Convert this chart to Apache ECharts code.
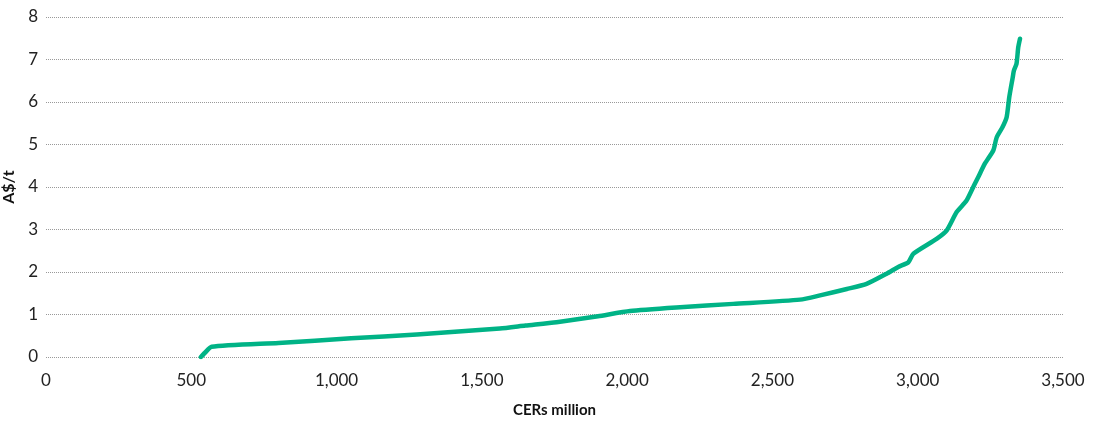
<!DOCTYPE html>
<html><head><meta charset="utf-8">
<script src="https://cdn.jsdelivr.net/npm/echarts@6/dist/echarts.min.js"></script>
<style>html,body{margin:0;padding:0;background:#fff}#c{width:1093px;height:424px}</style>
</head><body><div id="c"></div>
<script>
const cers = [533, 547, 570, 800, 1050, 1276, 1562, 1650, 1757, 1900, 2010, 2182, 2365, 2595, 2664, 2756, 2824, 2893, 2933, 2968, 2985, 3065, 3100, 3134, 3168, 3194, 3208, 3231, 3260, 3272, 3292, 3306, 3315, 3327, 3331, 3340, 3346, 3352];
const price = [0, 0.1, 0.24, 0.33, 0.44, 0.53, 0.67, 0.74, 0.82, 0.96, 1.08, 1.17, 1.25, 1.35, 1.45, 1.6, 1.72, 1.96, 2.12, 2.23, 2.43, 2.78, 2.98, 3.41, 3.68, 4.04, 4.23, 4.55, 4.86, 5.17, 5.41, 5.64, 6.11, 6.58, 6.74, 6.9, 7.29, 7.49];
const xTicks = [0, 500, 1000, 1500, 2000, 2500, 3000, 3500];
const yTicks = [0, 1, 2, 3, 4, 5, 6, 7, 8];
const chart = echarts.init(document.getElementById('c'));
const lbl = {color:'#222', fontFamily:'Lato', fontSize:17, fontWeight:'normal'};
chart.setOption({
  animation:false,
  grid:{left:46, right:30, top:17, bottom:67, containLabel:false, outerBoundsMode:'none'},
  xAxis:{type:'value', min:xTicks[0], max:xTicks[xTicks.length-1], interval:500,
    name:'CERs million', nameLocation:'middle', nameGap:46,
    nameTextStyle:{color:'#111', fontFamily:'Lato', fontWeight:'bold', fontSize:15},
    axisLine:{show:false}, axisTick:{show:false}, splitLine:{show:false},
    axisLabel:Object.assign({margin:15, formatter:v=>v.toLocaleString('en-US')}, lbl)},
  yAxis:{type:'value', min:yTicks[0], max:yTicks[yTicks.length-1], interval:1,
    name:'A$/t', nameLocation:'middle', nameGap:26, nameRotate:90,
    nameTextStyle:{color:'#111', fontFamily:'Lato', fontWeight:'bold', fontSize:16},
    axisLine:{show:false}, axisTick:{show:false},
    splitLine:{lineStyle:{color:'#999', type:[1,1], width:1}},
    axisLabel:Object.assign({margin:8}, lbl)},
  series:[{type:'line', data:cers.map((x,i)=>[x,price[i]]), showSymbol:false, smooth:0.2,
    lineStyle:{color:'#00b386', width:4.5, cap:'round', join:'round'}}]
});
</script></body></html>
